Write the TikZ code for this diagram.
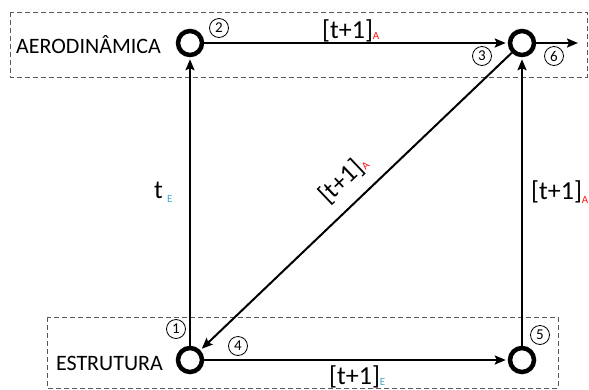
\documentclass[tikz,border=0pt]{standalone}
\usepackage{fontspec}
\setmainfont{Carlito}
\usetikzlibrary{arrows.meta}
\definecolor{subred}{RGB}{255,20,20}
\definecolor{subcyan}{RGB}{60,170,210}
\newcommand{\subA}[1]{{\fontsize{11}{11}\selectfont\color{subred}\raisebox{#1}{A}}}
\newcommand{\subE}[1]{{\fontsize{11}{11}\selectfont\color{subcyan}\raisebox{#1}{E}}}
\begin{document}
\begin{tikzpicture}[x=1pt,y=-1pt,
  st/.style={circle, draw, line width=4.5pt, minimum size=24pt, inner sep=0pt},
  num/.style={circle, draw, line width=0.8pt, minimum size=19pt, inner sep=0pt, font=\fontsize{15}{15}\selectfont},
  lbl/.style={font=\fontsize{22}{22}\selectfont, inner sep=0pt},
  big/.style={font=\fontsize{26}{26}\selectfont, inner sep=0pt},
  conn/.style={line width=2pt, shorten >=2pt, -{Stealth[length=11pt,width=9pt,inset=2pt]}},
  box/.style={draw=black!65, line width=0.8pt, dash pattern=on 5pt off 3pt}
]
\useasboundingbox (0,0) rectangle (589,389);
\fill[white] (0,0) rectangle (589,389);
% boxes
\draw[box] (10,12) rectangle (587,77);
\draw[box] (47,317) rectangle (558,388);
% states
\node[st] (n2) at (190,43) {};
\node[st] (n3) at (522,43) {};
\node[st] (n1) at (190,360) {};
\node[st] (n5) at (522,360) {};
\coordinate (out) at (580,43);
% connectors
\draw[conn] (n2) -- (n3);
\draw[conn] (n3) -- (out);
\draw[conn] (n1) -- (n2);
\draw[conn] (n5) -- (n3);
\draw[conn] (n3) -- (n1);
\draw[conn] (n1) -- (n5);
% group labels
\node[lbl, anchor=base east] (aero) at (161,53) {AERODINÂMICA};
\node[lbl, anchor=base east] (estr) at (163,370) {ESTRUTURA};
% step numbers
\node[num] (c1) at (176,329) {1};
\node[num] (c2) at (219,28) {2};
\node[num] (c3) at (482,56) {3};
\node[num] (c4) at (238,346) {4};
\node[num] (c5) at (540,335) {5};
\node[num] (c6) at (554,56) {6};
% connector labels
\node[big, anchor=base west] (l23) at (322,38) {[t+1]\subA{-1.5pt}};
\node[big, anchor=base west] (l15) at (329,384) {[t+1]\subE{-1pt}};
\node[big, anchor=base west] (l12) at (154,198) {t\,\subE{-4pt}};
\node[big, anchor=base west] (l53) at (531,199) {[t+1]\subA{-4pt}};
\node[big, anchor=base west, rotate=43.5] (l31) at (328,205) {[t+1]\subA{-1pt}};
\end{tikzpicture}
\end{document}
